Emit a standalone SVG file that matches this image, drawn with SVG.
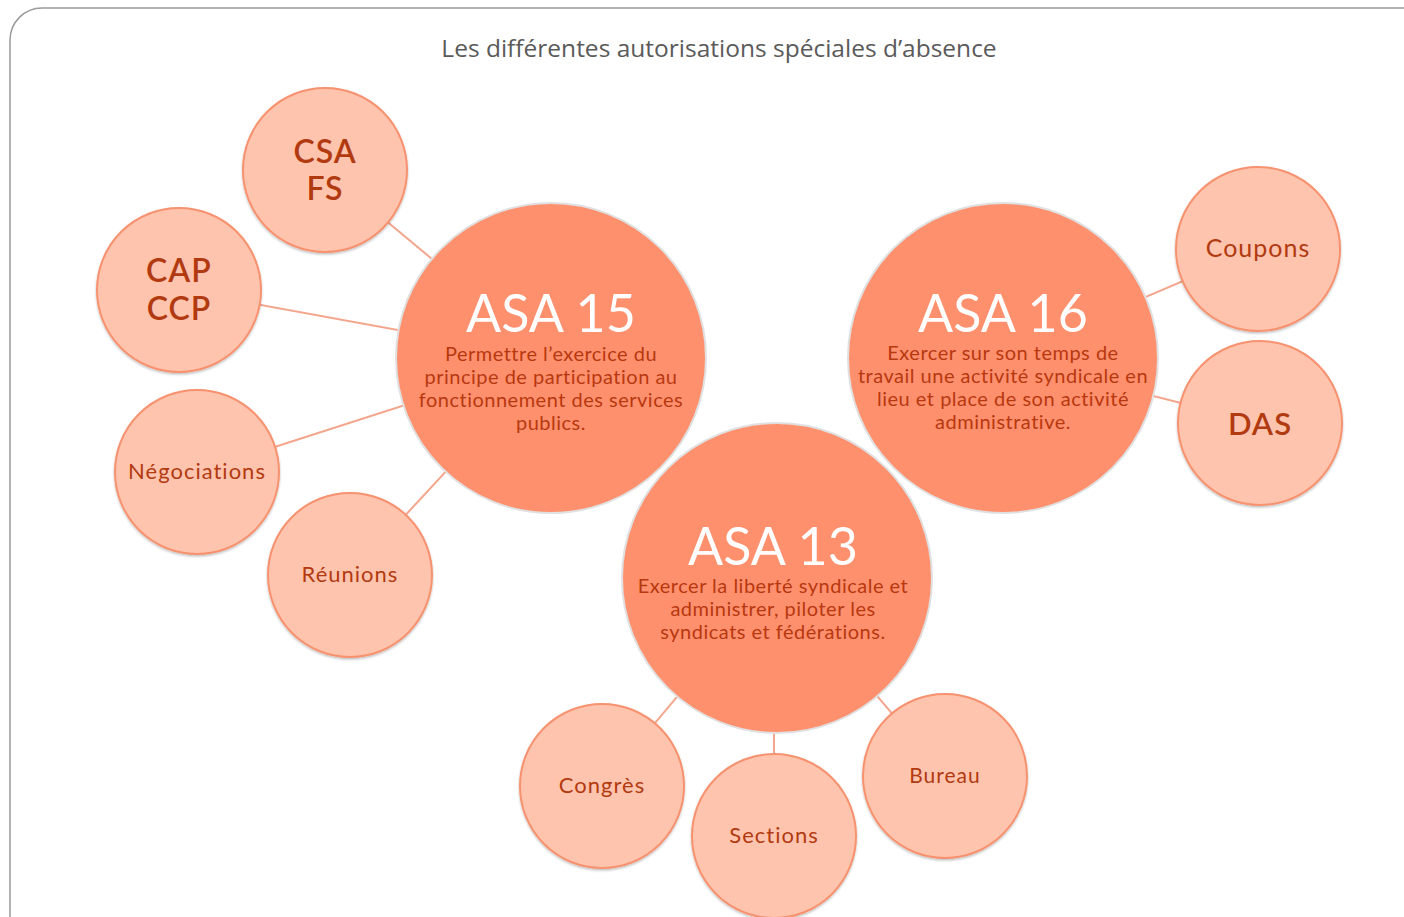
<svg xmlns="http://www.w3.org/2000/svg" width="1404" height="917" viewBox="0 0 1404 917">
<style>
.frame{fill:#fff;stroke:#9a9a9a;stroke-width:1.5}
.title{font-family:"Open Sans","Liberation Sans",sans-serif;font-size:24.5px;fill:#5a5a5a;text-anchor:middle}
.big{fill:#FF906E;stroke:#e0e0e0;stroke-width:2}
.small{fill:#FFC4AE;stroke:#F7926F;stroke-width:2}
.conn line{stroke:#F4A68C;stroke-width:2}
.h{font-family:Lato,"Liberation Sans",sans-serif;font-size:52px;fill:#fff;text-anchor:middle}
.d{font-family:Lato,"Liberation Sans",sans-serif;font-size:20px;letter-spacing:0.5px;fill:#B8380E;text-anchor:middle}
.s{font-family:Lato,"Liberation Sans",sans-serif;fill:#B23A10;text-anchor:middle;letter-spacing:1px}
</style>
<defs>
<filter id="sh" x="-10%" y="-10%" width="120%" height="120%"><feDropShadow dx="0" dy="1.5" stdDeviation="1.2" flood-color="#000" flood-opacity="0.25"/></filter>
</defs>
<rect class="frame" x="10" y="8" width="1430" height="940" rx="32"/>
<text class="title" x="719" y="57">Les différentes autorisations spéciales d’absence</text>
<g class="conn">
<line x1="325" y1="170" x2="551" y2="358"/>
<line x1="179" y1="290" x2="551" y2="358"/>
<line x1="197" y1="472" x2="551" y2="358"/>
<line x1="350" y1="575" x2="551" y2="358"/>
<line x1="1258" y1="249" x2="1003" y2="358"/>
<line x1="1260" y1="423" x2="1003" y2="358"/>
<line x1="602" y1="786" x2="777" y2="578"/>
<line x1="774" y1="836" x2="774" y2="578"/>
<line x1="945" y1="776" x2="777" y2="578"/>
</g>
<g id="csa"><circle class="small" filter="url(#sh)" cx="325" cy="170" r="82"/><text class="s" font-size="32" letter-spacing="2" font-weight="600" x="325" y="163">CSA</text><text class="s" font-size="32" letter-spacing="2" font-weight="600" x="325" y="200">FS</text></g>
<g id="cap"><circle class="small" filter="url(#sh)" cx="179" cy="290" r="82"/><text class="s" font-size="32" letter-spacing="2" font-weight="600" x="179" y="282">CAP</text><text class="s" font-size="32" letter-spacing="2" font-weight="600" x="179" y="320">CCP</text></g>
<g id="nego"><circle class="small" filter="url(#sh)" cx="197" cy="472" r="82"/><text class="s" font-size="22" x="197" y="479">Négociations</text></g>
<g id="reunions"><circle class="small" filter="url(#sh)" cx="350" cy="575" r="82"/><text class="s" font-size="22" x="350" y="582">Réunions</text></g>
<g id="coupons"><circle class="small" filter="url(#sh)" cx="1258" cy="249" r="82"/><text class="s" font-size="25" letter-spacing="1.5" x="1258" y="257">Coupons</text></g>
<g id="das"><circle class="small" filter="url(#sh)" cx="1260" cy="423" r="82"/><text class="s" font-size="31" letter-spacing="1.5" font-weight="600" x="1260" y="435">DAS</text></g>
<g id="congres"><circle class="small" filter="url(#sh)" cx="602" cy="786" r="82"/><text class="s" font-size="22" x="602" y="793">Congrès</text></g>
<g id="bureau"><circle class="small" filter="url(#sh)" cx="945" cy="776" r="82"/><text class="s" font-size="21" x="945" y="783">Bureau</text></g>
<g id="sections"><circle class="small" filter="url(#sh)" cx="774" cy="836" r="82"/><text class="s" font-size="22" x="774" y="843">Sections</text></g>
<g id="asa15"><circle class="big" cx="551" cy="358" r="155"/><text class="h" x="551" y="332">ASA 15</text>
<text class="d" x="551" y="361">Permettre l’exercice du</text><text class="d" x="551" y="384">principe de participation au</text><text class="d" x="551" y="407">fonctionnement des services</text><text class="d" x="551" y="430">publics.</text></g>
<g id="asa16"><circle class="big" cx="1003" cy="358" r="155"/><text class="h" x="1003" y="332">ASA 16</text>
<text class="d" x="1003" y="360">Exercer sur son temps de</text><text class="d" x="1003" y="383">travail une activité syndicale en</text><text class="d" x="1003" y="406">lieu et place de son activité</text><text class="d" x="1003" y="429">administrative.</text></g>
<g id="asa13"><circle class="big" cx="777" cy="578" r="155"/><text class="h" x="773" y="565">ASA 13</text>
<text class="d" x="773" y="593">Exercer la liberté syndicale et</text><text class="d" x="773" y="616">administrer, piloter les</text><text class="d" x="773" y="639">syndicats et fédérations.</text></g>
</svg>
